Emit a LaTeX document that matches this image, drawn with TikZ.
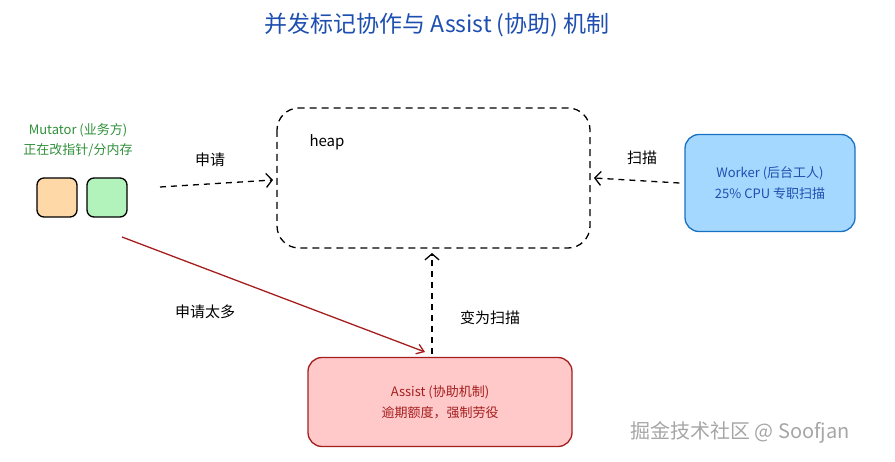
\documentclass[tikz,border=0pt]{standalone}
\usepackage{fontspec}
\setmainfont{Noto Sans CJK SC}
\usetikzlibrary{arrows.meta}
\definecolor{tblue}{HTML}{1E4FB0}
\definecolor{tgreen}{HTML}{2F8F3A}
\definecolor{tred}{HTML}{A51E1E}
\definecolor{wfill}{HTML}{A5D8FF}
\definecolor{wdraw}{HTML}{1971C2}
\definecolor{afill}{HTML}{FFC9C9}
\definecolor{ofill}{HTML}{FFD8A8}
\definecolor{gfill}{HTML}{B2F2BB}
\tikzset{
 dashline/.style={dashed,dash pattern=on 6pt off 5pt,line width=1.3pt,-{Straight Barb[length=6pt,width=14pt]}},
 lbl/.style={font=\fontsize{15}{17}\selectfont},
 boxw/.style={draw,rounded corners=14pt,line width=1.3pt,inner sep=0pt},
}
\begin{document}
\begin{tikzpicture}[x=1pt,y=-1pt]
\useasboundingbox (0,0) rectangle (895,462);
\node (title) at (437,25) {\color{tblue}\fontsize{23}{26}\selectfont 并发标记协作与 Assist (协助) 机制};
\node[align=center,text=tgreen,font=\fontsize{13}{20}\selectfont] (mut) at (78,140) {Mutator (业务方)\\正在改指针/分内存};
\draw[line width=1.3pt,fill=ofill,rounded corners=7pt] (37,178) rectangle (77,217);
\draw[line width=1.3pt,fill=gfill,rounded corners=7pt] (87,178) rectangle (127,217);
\coordinate (mutR) at (160,187);
\coordinate (mutB) at (122,237);
\draw[dashed,dash pattern=on 7pt off 5pt,line width=1.3pt,rounded corners=22pt] (277,108) rectangle (590,248);
\node[lbl,anchor=west] (heap) at (306,142) {heap};
\coordinate (heapL) at (273,180);
\coordinate (heapR) at (594,178);
\coordinate (heapB) at (432,253);
\node[boxw,draw=wdraw,fill=wfill,minimum width=170pt,minimum height=97pt,align=center,font=\fontsize{13}{21}\selectfont,text=tblue] (worker) at (770,183) {Worker (后台工人)\\25\% CPU 专职扫描};
\node[boxw,draw=tred,fill=afill,minimum width=264pt,minimum height=89pt,align=center,font=\fontsize{13}{21}\selectfont,text=tred] (assist) at (440,402) {Assist (协助机制)\\逾期额度，强制劳役};
\draw[dashline] (mutR) -- (heapL);
\node[lbl] (l1) at (210,160) {申请};
\draw[dashline] (worker.west) ++(-5,0) coordinate (wl) (wl) -- (heapR);
\node[lbl] (l2) at (642,158) {扫描};
\draw[dashline] (assist.north -| heapB) ++(0,-3) coordinate (au) (au) -- (heapB);
\node[lbl] (l3) at (490,318) {变为扫描};
\draw[tred,line width=1.3pt,-{Straight Barb[length=7pt,width=10pt]}] (mutB) -- (425,352);
\node[lbl] (l4) at (205,312) {申请太多};
\node[text=gray!70,font=\fontsize{20}{22}\selectfont] (wm) at (740,432) {掘金技术社区 @ Soofjan};
\end{tikzpicture}
\end{document}
